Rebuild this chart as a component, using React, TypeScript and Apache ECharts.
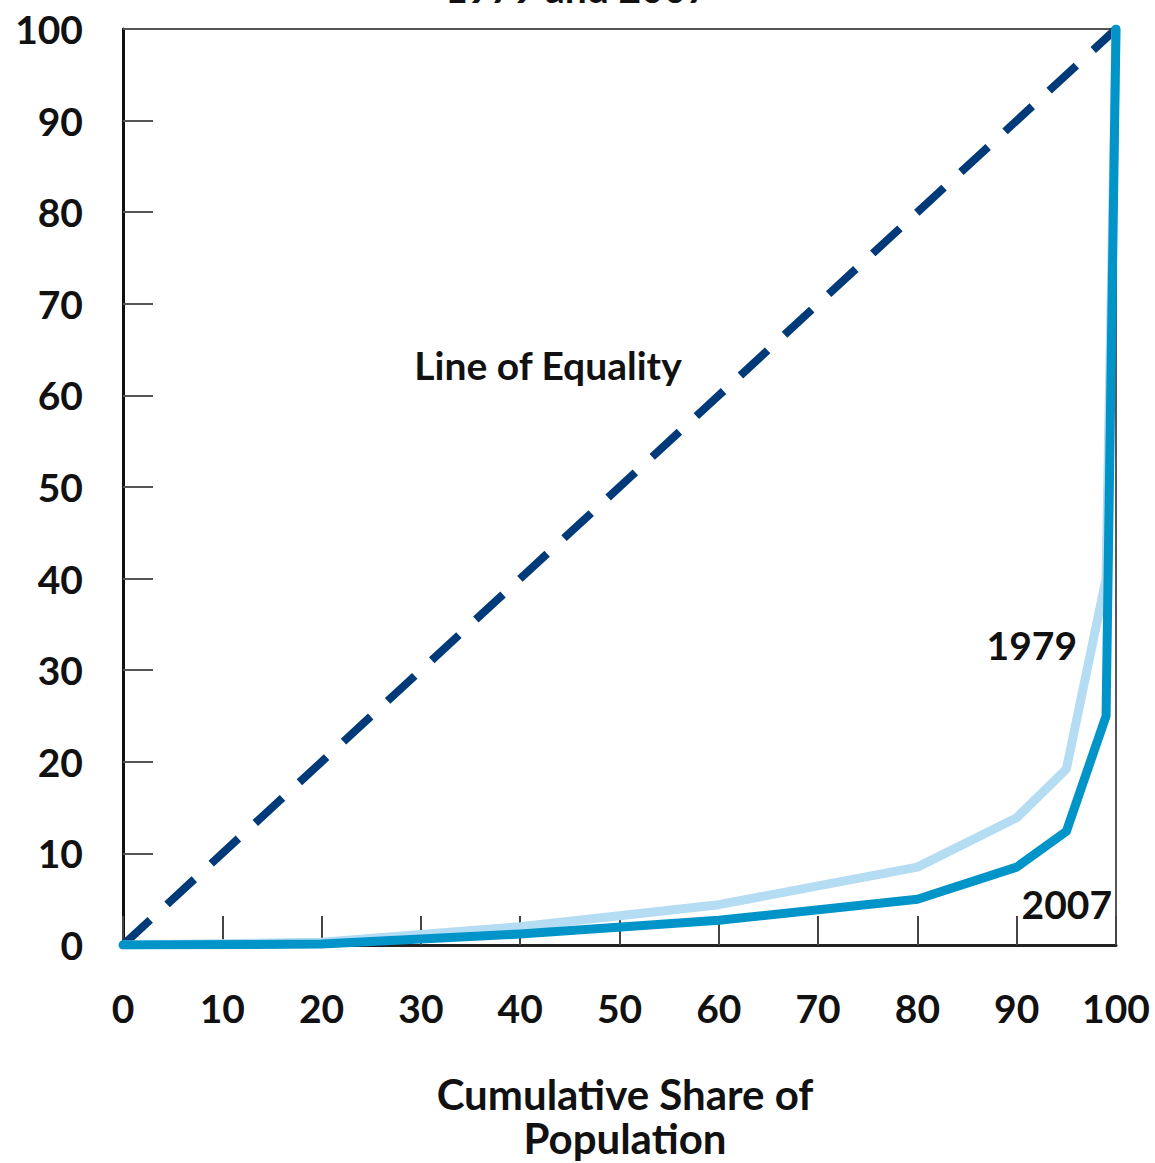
import React, { useEffect, useRef } from "react";
import * as echarts from "echarts";

const popShare = [0, 20, 40, 60, 80, 90, 95, 99, 100];
const share1979 = [0, 0.3, 2.0, 4.4, 8.5, 13.9, 19.2, 40, 100];
const share2007 = [0, 0.1, 1.2, 2.7, 5.0, 8.5, 12.4, 25, 100];
const equalityX = [0, 100];
const equalityY = [0, 100];

const FONT = "Lato";
const FS = 39;

export default function App() {
  const ref = useRef<HTMLDivElement>(null);
  useEffect(() => {
    if (!ref.current) return;
    const chart = echarts.init(ref.current, null, { renderer: "svg" });
    const label = { fontFamily: FONT, fontWeight: "bold", fontSize: FS, color: "#111" };
    const txt = (text: string, x: number, y: number, align: string, size = FS, lineHeight?: number) => ({
      type: "text",
      x,
      y,
      style: {
        text,
        fontFamily: FONT,
        fontWeight: "bold",
        fontSize: size,
        lineHeight,
        fill: "#111",
        textAlign: align,
        textVerticalAlign: "middle",
      },
    });
    chart.setOption({
      animation: false,
      backgroundColor: "#fff",
      grid: {
        left: 123,
        top: 29,
        width: 993,
        height: 916,
        outerBoundsMode: "none",
        containLabel: false,
        show: true,
        borderColor: "#555",
        borderWidth: 2,
        backgroundColor: "transparent",
      },
      xAxis: {
        type: "value",
        min: 0,
        max: 100,
        interval: 10,
        axisLine: { show: true, lineStyle: { color: "#222", width: 3 } },
        axisTick: { show: true, inside: true, length: 29, lineStyle: { color: "#444", width: 2 } },
        splitLine: { show: false },
        axisLabel: { ...label, margin: 43 },
      },
      yAxis: {
        type: "value",
        min: 0,
        max: 100,
        interval: 10,
        axisLine: { show: true, lineStyle: { color: "#111", width: 3 } },
        axisTick: { show: true, inside: true, length: 30, lineStyle: { color: "#555", width: 2 } },
        splitLine: { show: false },
        axisLabel: { ...label, margin: 40 },
      },
      series: [
        {
          type: "line",
          data: equalityX.map((x, i) => [x, equalityY[i]]),
          symbol: "none",
          lineStyle: { color: "#003a78", width: 8, type: [37, 23], cap: "butt" },
          z: 3,
        },
        {
          type: "line",
          data: popShare.map((x, i) => [x, share1979[i]]),
          symbol: "none",
          lineStyle: { color: "#b4dcf2", width: 9, join: "round" },
          z: 4,
        },
        {
          type: "line",
          data: popShare.map((x, i) => [x, share2007[i]]),
          symbol: "none",
          lineStyle: { color: "#0094c8", width: 9, join: "round", cap: "round" },
          z: 5,
        },
      ],
      graphic: [
        txt("1979 and 2007", 577, -12, "center"),
        txt("Line of Equality", 548, 365, "center"),
        txt("1979", 1077, 645, "right"),
        txt("2007", 1112, 904, "right"),
        txt("Cumulative Share of\nPopulation", 625, 1116, "center", 42, 44),
      ],
    });
    return () => chart.dispose();
  }, []);
  return (
    <div
      ref={ref}
      style={{ position: "absolute", left: 0, top: 0, width: 1155, height: 1163 }}
    />
  );
}
